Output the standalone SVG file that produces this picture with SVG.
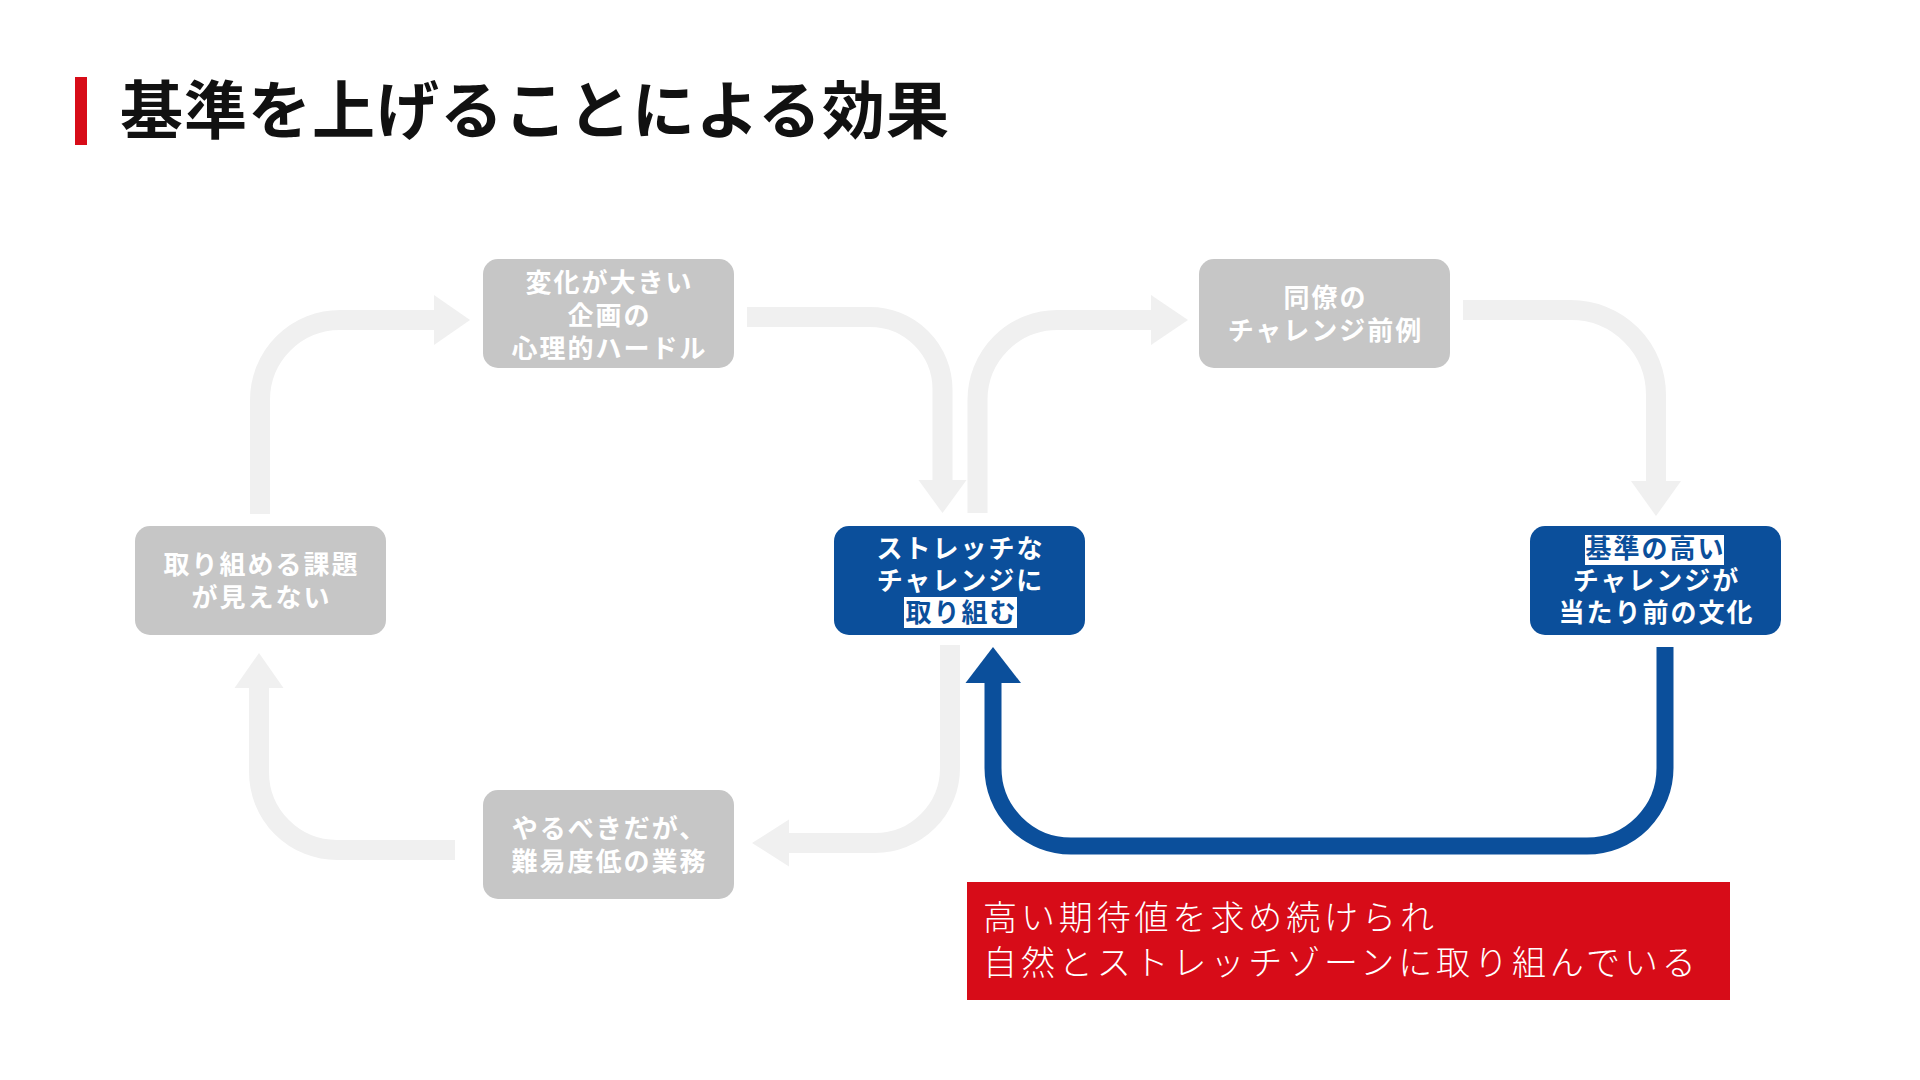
<svg xmlns="http://www.w3.org/2000/svg" width="1920" height="1080" viewBox="0 0 1920 1080">
<style>
.gbox{fill:#c6c6c6}
.bbox{fill:#0b4f9b}
.t{font-family:"Noto Sans CJK JP","Noto Sans",sans-serif;font-size:26px;font-weight:700;letter-spacing:2px;fill:#ffffff;text-anchor:middle}
.gt{font-weight:700}
.hl{fill:#ffffff}
.ht{fill:#0b4f9b}
.garr{fill:none;stroke:#f0f0f0;stroke-width:20}
.ghead{fill:#f0f0f0}
.barr{fill:none;stroke:#0b4f9b;stroke-width:17}
.bhead{fill:#0b4f9b}
.note{font-family:"Noto Sans CJK JP",sans-serif;font-size:34px;font-weight:300;letter-spacing:3.9px;fill:#ffffff}
</style>
<rect width="1920" height="1080" fill="#ffffff"/>
<g id="title">
<rect x="75" y="77" width="12" height="68" fill="#d70c18"/>
<text x="120" y="133" font-family="Noto Sans CJK JP, sans-serif" font-size="63" font-weight="700" letter-spacing="1" fill="#111111">基準を上げることによる効果</text>
</g>
<g id="connectors">
<path class="garr" d="M260 514 V400 A80 80 0 0 1 340 320 H436"/>
<polygon class="ghead" points="434,295 470,320 434,345"/>
<path class="garr" d="M747 317 H870 A72.5 72.5 0 0 1 942.5 389.5 V482"/>
<polygon class="ghead" points="918.5,480 966.5,480 942.5,513"/>
<path class="garr" d="M977.5 513 V400 A80 80 0 0 1 1057.5 320 H1153"/>
<polygon class="ghead" points="1151,295 1188,320 1151,345"/>
<path class="garr" d="M1463 310 H1571 A85 85 0 0 1 1656 395 V483"/>
<polygon class="ghead" points="1631,481 1681,481 1656,516"/>
<path class="garr" d="M950 645 V768 A75 75 0 0 1 875 843 H787"/>
<polygon class="ghead" points="789,819.5 752,843 789,866.5"/>
<path class="garr" d="M455 850 H337 A78 78 0 0 1 259 772 V686"/>
<polygon class="ghead" points="234.5,688 283.5,688 259,653"/>
<path class="barr" d="M1665 647 V768 A78 78 0 0 1 1587 846 H1071 A78 78 0 0 1 993 768 V681"/>
<polygon class="bhead" points="965.5,683 1021,683 993,647"/>
</g>
<g id="node-henka">
<rect class="gbox" x="483" y="259" width="251" height="109" rx="15"/>
<text class="t gt" x="609.5" y="292">変化が大きい</text>
<text class="t gt" x="609.5" y="325">企画の</text>
<text class="t gt" x="609.5" y="358">心理的ハードル</text>
</g>
<g id="node-doryo">
<rect class="gbox" x="1199" y="259" width="251" height="109" rx="15"/>
<text class="t gt" x="1325.5" y="307">同僚の</text>
<text class="t gt" x="1325.5" y="340">チャレンジ前例</text>
</g>
<g id="node-torikumeru">
<rect class="gbox" x="135" y="526" width="251" height="109" rx="15"/>
<text class="t gt" x="261.5" y="573.5">取り組める課題</text>
<text class="t gt" x="261.5" y="606.5">が見えない</text>
</g>
<g id="node-stretch">
<rect class="bbox" x="834" y="526" width="251" height="109" rx="15"/>
<text class="t" x="960.5" y="557.5">ストレッチな</text>
<text class="t" x="960.5" y="589.5">チャレンジに</text>
<rect class="hl" x="904" y="597" width="113" height="31"/>
<text class="t ht" x="961.5" y="621.5">取り組む</text>
</g>
<g id="node-kijun">
<rect class="bbox" x="1530" y="526" width="251" height="109" rx="15"/>
<rect class="hl" x="1585" y="535" width="139" height="30"/>
<text class="t ht" x="1655.5" y="558">基準の高い</text>
<text class="t" x="1656.5" y="589.5">チャレンジが</text>
<text class="t" x="1656.5" y="621.5">当たり前の文化</text>
</g>
<g id="node-yarubeki">
<rect class="gbox" x="483" y="790" width="251" height="109" rx="15"/>
<text class="t gt" x="609.5" y="837.5">やるべきだが、</text>
<text class="t gt" x="609.5" y="870.5">難易度低の業務</text>
</g>
<g id="note">
<rect x="967" y="882" width="763" height="118" fill="#d70c18"/>
<text class="note" x="983" y="930">高い期待値を求め続けられ</text>
<text class="note" x="983" y="975">自然とストレッチゾーンに取り組んでいる</text>
</g>
</svg>
